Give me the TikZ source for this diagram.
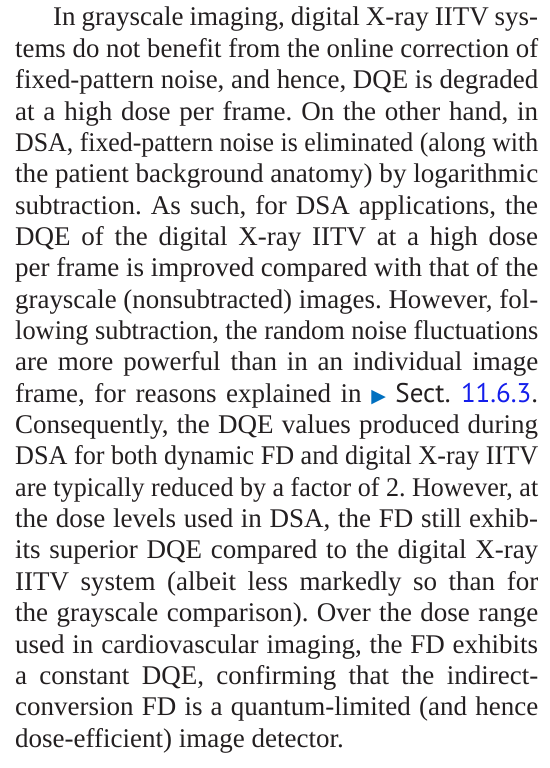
\documentclass[tikz,border=0pt]{standalone}
\usepackage{graphicx}
\usepackage{fontspec}
\setmainfont{Liberation Serif}
\newfontfamily\sansf{PT Sans}
\newfontfamily\symf{DejaVu Sans}
\definecolor{txt}{RGB}{35,31,32}
\definecolor{arrowblue}{RGB}{0,112,192}
\definecolor{linkblue}{RGB}{20,30,235}
\newsavebox\linebox
\newcommand\J[1]{\sbox\linebox{#1}\ifdim\wd\linebox>521pt\relax\resizebox{523pt}{\height}{\usebox\linebox}\else\makebox[523pt][s]{#1}\fi}
\frenchspacing
\begin{document}
\begin{tikzpicture}[x=1pt,y=-1pt,
  ln/.style={anchor=base west,inner sep=0pt,text=txt,font=\fontsize{27}{31}\selectfont\frenchspacing}]
\useasboundingbox (0,0) rectangle (549,768);
\def\p{31.35}
\node[ln] (l1)  at (53,26) {\makebox[485pt][s]{In grayscale imaging, digital X-ray IITV sys-}};
\node[ln] (l2)  at (15,26+1*\p) {\J{tems do not benefit from the online correction of}};
\node[ln] (l3)  at (15,26+2*\p) {\J{fixed-pattern noise, and hence, DQE is degraded}};
\node[ln] (l4)  at (15,26+3*\p) {\J{at a high dose per frame. On the other hand, in}};
\node[ln] (l5)  at (15,26+4*\p) {\J{DSA, fixed-pattern noise is eliminated (along with}};
\node[ln] (l6)  at (15,26+5*\p) {\J{the patient background anatomy) by logarithmic}};
\node[ln] (l7)  at (15,26+6*\p) {\J{subtraction. As such, for DSA applications, the}};
\node[ln] (l8)  at (15,26+7*\p) {\J{DQE of the digital X-ray IITV at a high dose}};
\node[ln] (l9)  at (15,26+8*\p) {\J{per frame is improved compared with that of the}};
\node[ln] (l10) at (15,26+9*\p) {\J{grayscale (nonsubtracted) images. However, fol-}};
\node[ln] (l11) at (15,26+10*\p) {\J{lowing subtraction, the random noise fluctuations}};
\node[ln] (l12) at (15,26+11*\p) {\J{are more powerful than in an individual image}};
\node[ln] (l13) at (15,26+12*\p) {\J{frame, for reasons explained in {\symf\fontsize{19}{19}\selectfont\color{arrowblue}▶} {\sansf Sect. {\color{linkblue}11.6.3}}.}};
\node[ln] (l14) at (15,26+13*\p) {\J{Consequently, the DQE values produced during}};
\node[ln] (l15) at (15,26+14*\p) {\J{DSA for both dynamic FD and digital X-ray IITV}};
\node[ln] (l16) at (15,26+15*\p) {\J{are typically reduced by a factor of 2. However, at}};
\node[ln] (l17) at (15,26+16*\p) {\J{the dose levels used in DSA, the FD still exhib-}};
\node[ln] (l18) at (15,26+17*\p) {\J{its superior DQE compared to the digital X-ray}};
\node[ln] (l19) at (15,26+18*\p) {\J{IITV system (albeit less markedly so than for}};
\node[ln] (l20) at (15,26+19*\p) {\J{the grayscale comparison). Over the dose range}};
\node[ln] (l21) at (15,26+20*\p) {\J{used in cardiovascular imaging, the FD exhibits}};
\node[ln] (l22) at (15,26+21*\p) {\J{a constant DQE, confirming that the indirect-}};
\node[ln] (l23) at (15,26+22*\p) {\J{conversion FD is a quantum-limited (and hence}};
\node[ln] (l24) at (15,26+23*\p) {dose-efficient) image detector.};
\end{tikzpicture}
\end{document}
